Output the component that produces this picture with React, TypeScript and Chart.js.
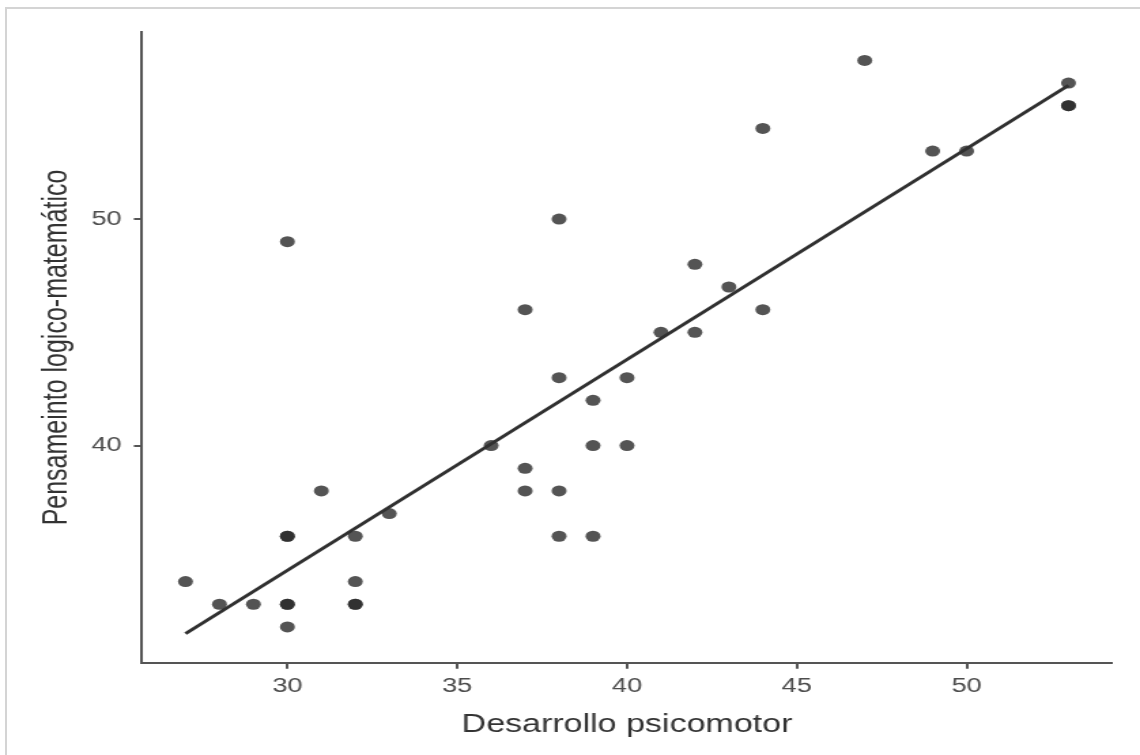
import React, { useEffect, useRef } from "react";
import { Chart, registerables } from "chart.js";

Chart.register(...registerables);

// ---- Data ----
const desarrolloPsicomotor = [
  27, 28, 29, 30, 30, 30, 30, 30, 30, 31, 32, 32, 32, 32, 33, 36, 37, 37, 37, 38,
  38, 38, 38, 39, 39, 39, 40, 40, 41, 42, 42, 43, 44, 44, 47, 49, 50, 53, 53, 53,
];
const pensamientoLogico = [
  34, 33, 33, 49, 36, 36, 33, 33, 32, 38, 36, 34, 33, 33, 37, 40, 46, 39, 38, 50,
  43, 38, 36, 42, 40, 36, 43, 40, 45, 48, 45, 47, 54, 46, 57, 53, 53, 56, 55, 55,
];
const fitLineX = [27, 53];
const fitLineY = [31.7, 55.9];

const xTicks = [30, 35, 40, 45, 50];
const yTicks = [40, 50];
const xRange = [25.72, 54.28];
const yRange = [30.42, 58.24];

const xTitle = "Desarrollo psicomotor";
const yTitle = "Pensameinto logico-matemático";

// ---- Layout ----
const PAGE_W = 1140;
const PAGE_H = 755;
const CANVAS_W = 838;
const CANVAS_H = 755;
const STRETCH = PAGE_W / CANVAS_W;

export default function App() {
  const ref = useRef<HTMLCanvasElement>(null);

  useEffect(() => {
    const canvas = ref.current;
    if (!canvas) return;
    const tickFont = { family: "'Liberation Sans', Arial, sans-serif", size: 20 };
    const titleFont = { family: "'Liberation Sans', Arial, sans-serif", size: 25 };
    const chart = new Chart(canvas, {
      type: "scatter",
      data: {
        datasets: [
          {
            type: "line",
            data: fitLineX.map((x, i) => ({ x, y: fitLineY[i] })),
            borderColor: "#303030",
            borderWidth: 2.9,
            pointRadius: 0,
            fill: false,
            order: 0,
          } as any,
          {
            type: "scatter",
            data: desarrolloPsicomotor.map((x, i) => ({ x, y: pensamientoLogico[i] })),
            backgroundColor: "rgba(41,41,41,0.8)",
            borderWidth: 0,
            pointRadius: 5.5,
            order: 1,
          },
        ],
      },
      options: {
        responsive: false,
        animation: false,
        devicePixelRatio: 1,
        events: [],
        layout: { padding: { top: 32.3, right: 20.6, left: 0, bottom: 0 } },
        plugins: { legend: { display: false }, tooltip: { enabled: false } },
        scales: {
          x: {
            type: "linear",
            min: xRange[0],
            max: xRange[1],
            afterBuildTicks: (s: any) => {
              s.ticks = xTicks.map((v) => ({ value: v }));
            },
            afterFit: (s: any) => {
              s.height = CANVAS_H - 662.7;
            },
            grid: {
              drawOnChartArea: false,
              drawTicks: true,
              tickLength: 6,
              color: "#555555",
              tickColor: "#555555",
              lineWidth: 2,
            },
            border: { display: true, color: "#555555", width: 2 },
            ticks: { font: tickFont, color: "#4d4d4d", padding: 6, maxRotation: 0 },
            title: {
              display: true,
              text: xTitle,
              font: titleFont,
              color: "#333333",
              padding: { top: 0, bottom: 14.5 },
            },
          },
          y: {
            type: "linear",
            min: yRange[0],
            max: yRange[1],
            afterBuildTicks: (s: any) => {
              s.ticks = yTicks.map((v) => ({ value: v }));
            },
            afterFit: (s: any) => {
              s.width = 104.4;
            },
            grid: {
              drawOnChartArea: false,
              drawTicks: true,
              tickLength: 6,
              color: "#555555",
              tickColor: "#555555",
              lineWidth: 2,
            },
            border: { display: true, color: "#555555", width: 2 },
            ticks: { font: tickFont, color: "#4d4d4d", padding: 9 },
            title: {
              display: true,
              text: yTitle,
              font: titleFont,
              color: "#333333",
              padding: { top: 27, bottom: 0 },
            },
          },
        },
      },
    });
    return () => chart.destroy();
  }, []);

  return (
    <div
      style={{
        position: "fixed",
        left: 0,
        top: 0,
        width: PAGE_W,
        height: PAGE_H,
        background: "#ffffff",
        overflow: "hidden",
      }}
    >
      <div
        style={{
          position: "absolute",
          left: 0,
          top: 0,
          width: CANVAS_W,
          height: CANVAS_H,
          transform: `scaleX(${STRETCH})`,
          transformOrigin: "0 0",
        }}
      >
        <canvas
          ref={ref}
          width={CANVAS_W}
          height={CANVAS_H}
          style={{ width: CANVAS_W, height: CANVAS_H, display: "block" }}
        />
      </div>
      <div
        style={{
          position: "absolute",
          left: 5,
          top: 7,
          right: 0,
          bottom: 0,
          borderTop: "2px solid #d4d4d4",
          borderLeft: "2px solid #d4d4d4",
          pointerEvents: "none",
        }}
      />
    </div>
  );
}
